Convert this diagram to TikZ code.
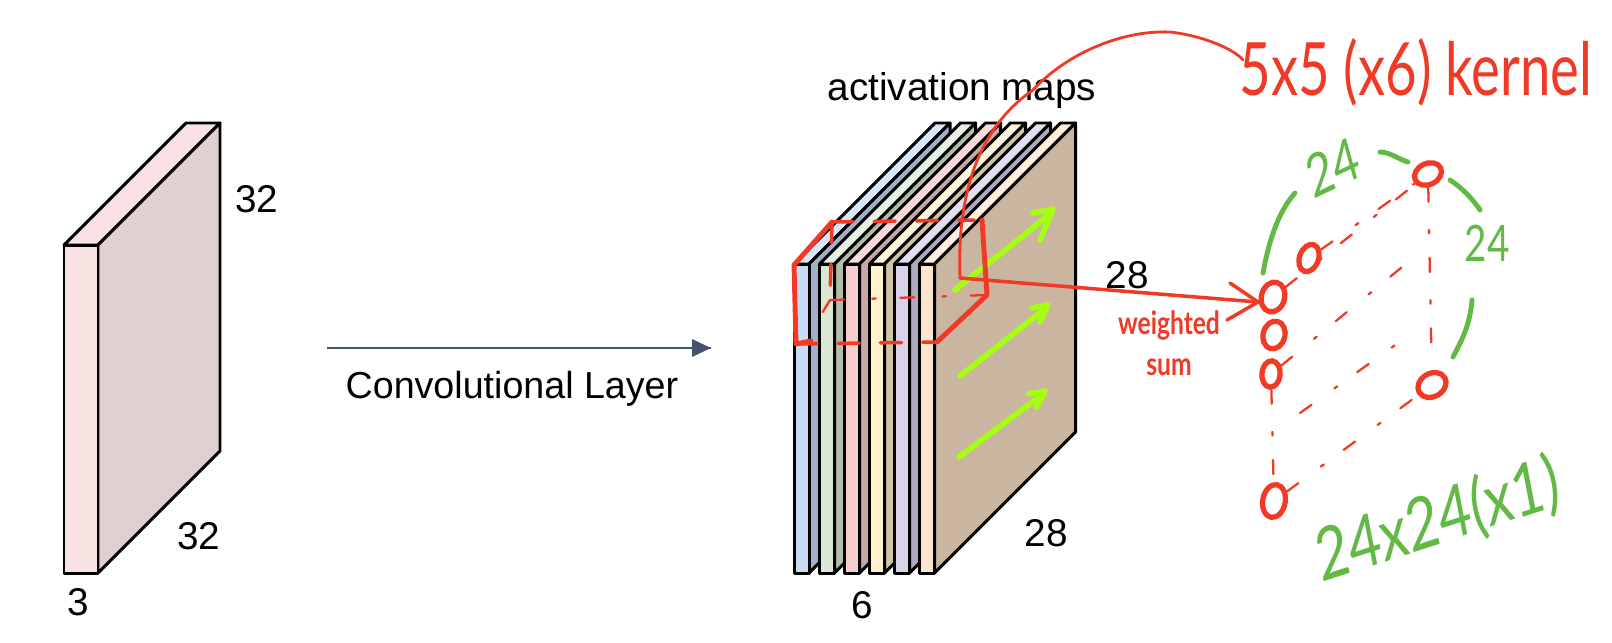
\documentclass[tikz,border=0pt]{standalone}
\usepackage{fontspec}
\setmainfont{Liberation Sans}
\newfontfamily\handfont{Lato}
\usetikzlibrary{calc, positioning, shapes.geometric}

\definecolor{inkred}{HTML}{F03A26}
\definecolor{inkgreen}{HTML}{62B946}
\definecolor{inklime}{HTML}{A6FF12}
\definecolor{arrowslate}{HTML}{44546A}
\definecolor{facepink}{HTML}{F8E3E2}
\definecolor{sidepink}{HTML}{E0D1D0}
\definecolor{mapblue}{HTML}{C9DAF5}
\definecolor{sideblue}{HTML}{A0B0C8}
\definecolor{mapgreen}{HTML}{DAE8D5}
\definecolor{sidegreen}{HTML}{B0BEAA}
\definecolor{maprose}{HTML}{F5CDCD}
\definecolor{siderose}{HTML}{C8A8A6}
\definecolor{mapyellow}{HTML}{FFF2CD}
\definecolor{sideyellow}{HTML}{CFC5A6}
\definecolor{mappurple}{HTML}{D9D2E9}
\definecolor{sidepurple}{HTML}{AEA9BB}
\definecolor{maporange}{HTML}{FCE5CD}
\definecolor{sideorange}{HTML}{C9B5A0}

\tikzset{
    face/.style={draw=black, line width=.85pt, line join=round},
    dimlabel/.style={font=\fontsize{11}{13}\selectfont},
    vertex/.style={ellipse, draw=inkred, line width=1.5pt, inner sep=0pt},
    kernelline/.style={draw=inkred, line width=1.4pt, line cap=round, line join=round},
    kerneldash/.style={draw=inkred, line width=1pt, line cap=round, dash pattern=on 6pt off 6pt},
    griddash/.style={draw=inkred, line width=.65pt, line cap=round, dash pattern=on 4pt off 8pt on 1pt off 7pt},
    sizearc/.style={draw=inkgreen, line width=1.4pt, line cap=round},
    strideline/.style={draw=inklime, line width=1.6pt, line cap=round, line join=round},
    handred/.style={text=inkred, yscale=1.35, transform shape, font=\handfont\fontsize{15.5}{17}\selectfont},
    handgreen/.style={text=inkgreen, yscale=1.3, transform shape, font=\handfont\fontsize{13}{15}\selectfont},
}

\begin{document}
\begin{tikzpicture}[x=.01cm, y=-.01cm]
    \useasboundingbox (0,0) rectangle (1612,642);

    % input volume
    \filldraw[face, fill=facepink] (64,245) -- (186,123) -- (220,123) -- (98,245) -- cycle;
    \filldraw[face, fill=sidepink] (98,245) -- (220,123) -- (220,451) -- (98,573) -- cycle;
    \filldraw[face, fill=facepink] (64,245) rectangle (98,573);
    \node[dimlabel] (inwidth) at (257,199) {32};
    \node[dimlabel] (indepth) at (199,536) {32};
    \node[dimlabel] (inchannels) at (78,602) {3};

    % convolution
    \coordinate (convstart) at (327,348);
    \coordinate (convend) at (711,348);
    \draw[arrowslate, line width=.35pt] (convstart) -- (convend);
    \fill[arrowslate] (convend) -- ++(-19,-9) -- ++(0,18) -- cycle;
    \node[below=3pt of $(convstart)!0.5!(convend)$, xshift=-2pt, font=\fontsize{10.7}{13}\selectfont] (convlabel) {Convolutional Layer};

    % activation maps
    \foreach \x/\front/\side in {794/mapblue/sideblue, 819.5/mapgreen/sidegreen, 844.5/maprose/siderose, 869.5/mapyellow/sideyellow, 894.5/mappurple/sidepurple, 919.5/maporange/sideorange}
    {
        \filldraw[face, fill=\front!70!white] (\x,264) -- ++(141,-141) -- ++(15,0) -- ++(-141,141) -- cycle;
        \filldraw[face, fill=\side] (\x+15,264) -- ++(141,-141) -- ++(0,309) -- ++(-141,141) -- cycle;
        \filldraw[face, fill=\front] (\x,264) rectangle (\x+15,573);
    }
    \node[dimlabel] (mapstitle) at (962,90) {activation maps};
    \node[dimlabel] (mapsheight) at (1127,275) {28};
    \node[dimlabel] (mapsdepth) at (1046,533) {28};
    \node[dimlabel] (mapscount) at (862,605) {6};

    % stride arrows
    \draw[strideline] (955,290) .. controls (985,265) and (1020,240) .. (1050,213);
    \draw[strideline] (1033,213) -- (1053,209) -- (1040,240);
    \draw[strideline] (960,376) -- (1046,308);
    \draw[strideline] (1032,308) -- (1048,305) -- (1040,322);
    \draw[strideline] (959,457) -- (1043,394);
    \draw[strideline] (1029,394) -- (1045,391) -- (1037,407);

    % kernel box
    \coordinate (boxfronttop) at (794,265);
    \coordinate (boxbacktop) at (832,222);
    \coordinate (boxfrontbottom) at (796,344);
    \coordinate (boxbackbottom) at (830,300);
    \coordinate (boxright) at (987,295);
    \coordinate (boxbackright) at (982,220);
    \coordinate (boxinner) at (937,342);
    \draw[kernelline] (boxbacktop) -- (boxfronttop) -- (boxfrontbottom) -- ++(15,-3);
    \draw[kernelline] (boxinner) -- (boxright) -- (boxbackright);
    \draw[kerneldash] (boxbacktop) -- (974,220);
    \draw[kerneldash] (boxfrontbottom) -- (boxinner);
    \draw[kerneldash] (boxbacktop) -- (boxbackbottom);
    \draw[griddash] (boxbackbottom) -- (boxright);
    \draw[griddash] (boxbackbottom) -- (810,333);

    % output neurons
    \node[vertex, minimum width=6.6pt, minimum height=8.6pt, rotate=-15] (nbig) at (1273,297) {};
    \node[vertex, minimum width=6.2pt, minimum height=8pt, rotate=-15] (nmid) at (1274,335) {};
    \node[vertex, minimum width=5.2pt, minimum height=7.5pt, rotate=-5] (nlow) at (1271,374) {};
    \node[vertex, minimum width=5.4pt, minimum height=8pt, rotate=-20] (nback) at (1309,258) {};
    \node[vertex, minimum width=8pt, minimum height=6pt, rotate=25] (ntop) at (1428,174) {};
    \node[vertex, minimum width=8.4pt, minimum height=6.6pt, rotate=30] (nright) at (1432,385) {};
    \node[vertex, minimum width=6.4pt, minimum height=9.4pt, rotate=-10] (nbottom) at (1274,501) {};

    \coordinate (kernelcorner) at (960,278);
    \coordinate (nbigtip) at (1258,302);
    \coordinate (gridfreea) at (1407,263);
    \coordinate (gridfreeb) at (1300,413);
    \coordinate (gridfreec) at (1412,333);
    \draw[draw=inkred, line width=.8pt, line cap=round] (kernelcorner) .. controls (957,200) and (975,130) .. (1033,90)
        .. controls (1065,55) and (1120,30) .. (1170,32) .. controls (1205,36) and (1235,50) .. (1243,60);
    \draw[draw=inkred, line width=1pt, line cap=round] (kernelcorner) -- (nbigtip);
    \draw[draw=inkred, line width=1pt, line cap=round, line join=round] (1230,283) -- (nbigtip) -- (1227,320);

    \draw[griddash] (nback) -- (ntop);
    \draw[griddash] (nbig) -- (ntop);
    \draw[griddash] (nlow) -- (gridfreea);
    \draw[griddash] (gridfreeb) -- (gridfreec);
    \draw[griddash] (ntop) -- (nright);
    \draw[griddash] (nbottom) -- (nright);
    \draw[griddash] (nlow) -- (nbottom);

    % sizes
    \draw[sizearc] (1263,273) .. controls (1270,235) and (1280,210) .. (1295,193);
    \draw[sizearc] (1380,152) .. controls (1390,152) and (1400,160) .. (1408,162);
    \draw[sizearc] (1450,180) .. controls (1462,188) and (1472,198) .. (1480,210);
    \draw[sizearc] (1472,300) .. controls (1470,325) and (1462,340) .. (1453,357);

    \node[handgreen, rotate=20] (toplabel) at (1333,167) {24};
    \node[handgreen, font=\handfont\fontsize{11}{13}\selectfont] (sidelabel) at (1487,243) {24};
    \node[handgreen, rotate=14, font=\handfont\fontsize{16}{18}\selectfont] (outsize) at (1438,521) {24x24(x1)};
    \node[handred] (kernelsize) at (1416,72) {5x5 (x6) kernel};
    \node[text=inkred, yscale=1.3, transform shape, font=\handfont\bfseries\fontsize{7}{9}\selectfont, align=center] (weightlabel) at (1169,343) {weighted\\sum};
\end{tikzpicture}
\end{document}
